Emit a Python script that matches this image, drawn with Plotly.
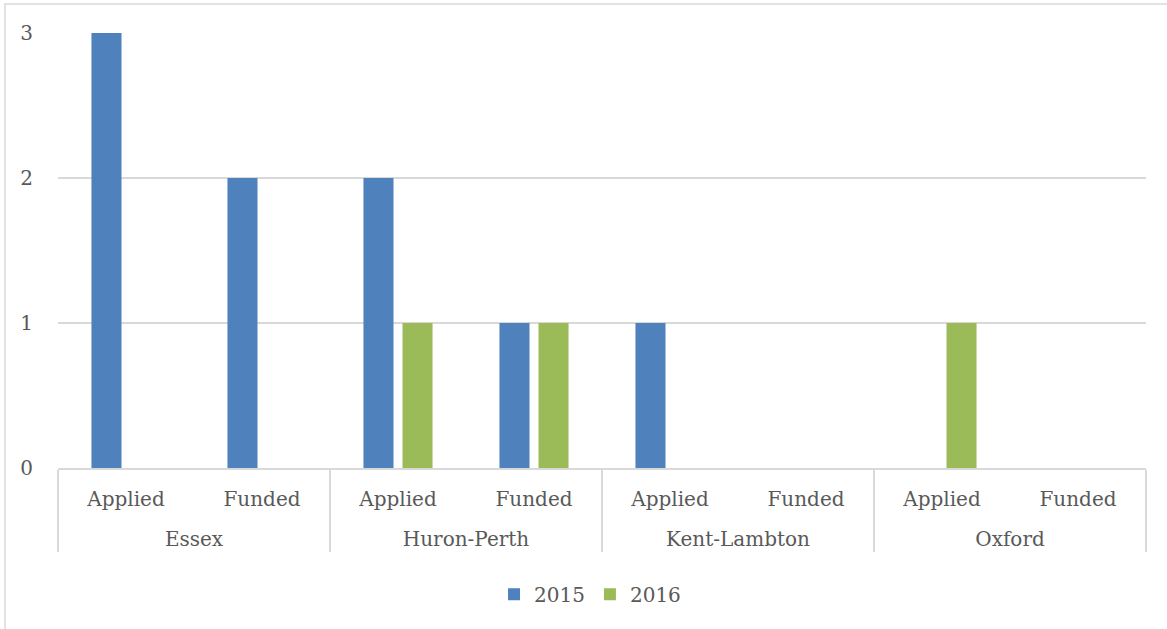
import plotly.graph_objects as go

regions = ["Essex", "Essex", "Huron-Perth", "Huron-Perth",
           "Kent-Lambton", "Kent-Lambton", "Oxford", "Oxford"]
kinds = ["Applied", "Funded"] * 4
y2015 = [3, 2, 2, 1, 1, 0, 0, 0]
y2016 = [0, 0, 1, 1, 0, 0, 1, 0]

text_color = "#595959"
grid_color = "#D9D9D9"
font_family = "DejaVu Serif"

# push the outer (region) labels down a line, like the Excel layout
region_labels = ["<span style='font-size:26px'> </span><br>" + r for r in regions]

fig = go.Figure()
fig.add_trace(go.Bar(x=[region_labels, kinds], y=y2015, name="2015",
                     marker=dict(color="#4F81BD", line=dict(width=0))))
fig.add_trace(go.Bar(x=[region_labels, kinds], y=y2016, name="2016",
                     marker=dict(color="#9BBB59", line=dict(width=0))))

fig.update_layout(
    width=1167, height=629,
    margin=dict(l=58, r=21, t=33, b=161),
    paper_bgcolor="white", plot_bgcolor="white",
    barmode="group", bargap=0.426, bargroupgap=0.23,
    font=dict(family=font_family, size=20, color=text_color),
    showlegend=True,
    legend=dict(orientation="h", x=0.489, xanchor="center", y=-0.29, yanchor="middle",
                font=dict(size=20, color=text_color), itemwidth=30, traceorder="normal"),
    xaxis=dict(showline=True, linecolor=grid_color, linewidth=1.5,
               showdividers=True, dividercolor=grid_color, dividerwidth=1.5,
               ticks="", ticklabelstandoff=12, tickfont=dict(size=20, color=text_color)),
    yaxis=dict(range=[0, 3], dtick=1, showgrid=True, gridcolor=grid_color, gridwidth=1.5,
               zeroline=False, ticks="", ticklabelstandoff=24,
               tickfont=dict(size=20, color=text_color)),
    shapes=[dict(type="rect", xref="paper", yref="paper",
                 x0=-0.0487, x1=1.05, y0=-0.5, y1=1.0667,
                 line=dict(color=grid_color, width=1.5), fillcolor="rgba(0,0,0,0)",
                 layer="below")],
)

fig.write_html("out.html", config={"displayModeBar": False},
               post_script="document.body.style.margin='0';")
